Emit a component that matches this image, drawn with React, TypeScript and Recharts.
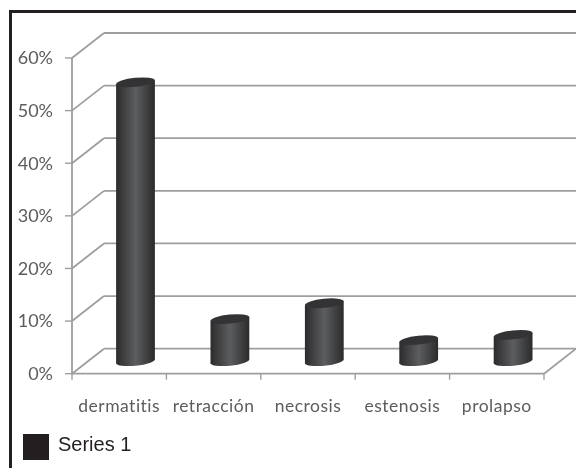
import { BarChart, Bar, XAxis, YAxis, CartesianGrid, Legend } from 'recharts';

const categories = ['dermatitis', 'retracción', 'necrosis', 'estenosis', 'prolapso'];
const values = [0.53, 0.08, 0.11, 0.04, 0.05];
const yTicks = [0, 0.1, 0.2, 0.3, 0.4, 0.5, 0.6];

const data = categories.map((name, i) => ({ name, value: values[i] }));

// fake 3D: how far the back wall sits from the front of the floor
const DEPTH_X = 32;
const DEPTH_Y = 25;
const LINE = '#9e9e9e';
const TEXT = '#5c5c5c';
const TILT = 6; // degrees, slant of the cylinder ends

// gridline = slanted side wall piece + line along the back wall
function WallLine(props: any) {
  const { x1, x2, y1, offset } = props;
  const isFloor = offset && Math.abs(y1 - (offset.top + offset.height)) < 1;
  return (
    <g stroke={LINE} strokeWidth={1.8} fill="none">
      <line x1={x1} y1={y1} x2={x1 + DEPTH_X} y2={y1 - DEPTH_Y} />
      <line x1={x1 + DEPTH_X} y1={y1 - DEPTH_Y} x2={x2 + DEPTH_X} y2={y1 - DEPTH_Y} />
      {isFloor && <line x1={x2} y1={y1} x2={x2 + DEPTH_X} y2={y1 - DEPTH_Y} />}
    </g>
  );
}

function CategoryTick(props: any) {
  const { x, y, payload, index } = props;
  const half = payload.offset ?? 47.2;
  const axisY = y - 8;
  return (
    <g>
      <line x1={x - half} y1={axisY} x2={x - half} y2={axisY + 6} stroke={LINE} strokeWidth={1.4} />
      {index === categories.length - 1 && (
        <line x1={x + half} y1={axisY} x2={x + half} y2={axisY + 6} stroke={LINE} strokeWidth={1.4} />
      )}
      <text x={x} y={axisY + 38} textAnchor="middle" fill={TEXT} fontFamily="Lato" fontSize={17.5} letterSpacing={0.5}>
        {payload.value}
      </text>
    </g>
  );
}

function Cylinder(props: any) {
  const { x, y, width, height } = props;
  const cx = x + width / 2 + DEPTH_X / 2;
  const top = y - DEPTH_Y / 2;
  const bottom = y + height - DEPTH_Y / 2;
  const rx = width / 2;
  const rad = (TILT * Math.PI) / 180;
  const tipX = rx * Math.cos(rad);
  const tipY = rx * Math.sin(rad);
  const body = [
    `${cx - tipX},${top + tipY}`,
    `${cx + tipX},${top - tipY}`,
    `${cx + tipX},${bottom - tipY}`,
    `${cx - tipX},${bottom + tipY}`,
  ].join(' ');
  return (
    <g>
      <ellipse cx={cx} cy={bottom} rx={rx} ry={4.5} fill="url(#cyl)" transform={`rotate(-${TILT} ${cx} ${bottom})`} />
      <polygon points={body} fill="url(#cyl)" />
      <ellipse cx={cx} cy={top} rx={rx} ry={4.5} fill="#333335" transform={`rotate(-${TILT} ${cx} ${top})`} />
    </g>
  );
}

export default function App() {
  return (
    <div style={{ position: 'absolute', left: 0, top: 0, width: 576, height: 468, background: '#fff', overflow: 'hidden' }}>
      <div style={{ filter: 'blur(0.4px)' }}>
        <BarChart
          width={576}
          height={468}
          data={data}
          margin={{ top: 58, right: 32, bottom: 25, left: 22 }}
          barCategoryGap={0}
        >
          <defs>
            <linearGradient id="cyl" x1="0" y1="0" x2="1" y2="0">
              <stop offset="0%" stopColor="#2b2b2c" />
              <stop offset="50%" stopColor="#5c5d5f" />
              <stop offset="100%" stopColor="#2b2b2c" />
            </linearGradient>
          </defs>
          <CartesianGrid vertical={false} horizontal={(p: any) => <WallLine {...p} />} />
          <XAxis
            dataKey="name"
            interval={0}
            height={40}
            tickLine={false}
            axisLine={{ stroke: LINE, strokeWidth: 1.8 }}
            tick={<CategoryTick />}
          />
          <YAxis
            width={50}
            domain={[0, 0.6]}
            ticks={yTicks}
            tickFormatter={(v: number) => `${Math.round(v * 100)}%`}
            tick={{ fill: TEXT, fontFamily: 'Lato', fontSize: 18 }}
            tickSize={7}
            tickMargin={12}
            tickLine={{ stroke: LINE, strokeWidth: 1.4 }}
            axisLine={{ stroke: LINE, strokeWidth: 1.8 }}
          />
          <Legend
            align="left"
            iconType="square"
            iconSize={26}
            wrapperStyle={{ left: 23, top: 431, width: 200, lineHeight: '26px' }}
            formatter={(v: string) => (
              <span style={{ color: '#231f20', fontFamily: 'Liberation Sans', fontSize: 20, marginLeft: 5 }}>{v}</span>
            )}
          />
          <Bar dataKey="value" name="Series 1" fill="#231f20" barSize={39} shape={<Cylinder />} isAnimationActive={false} />
        </BarChart>
      </div>
      <div style={{ position: 'absolute', left: 9, top: 10, width: 3, height: 458, background: '#231f20' }} />
      <div style={{ position: 'absolute', left: 9, top: 10, width: 567, height: 3, background: '#231f20' }} />
    </div>
  );
}
